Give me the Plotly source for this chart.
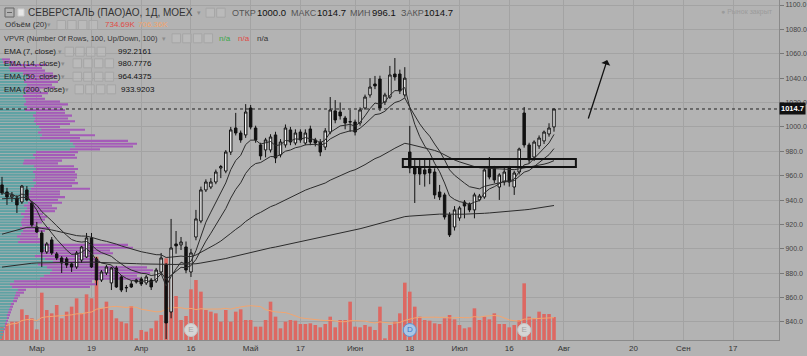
import numpy as np
import pandas as pd
import plotly.graph_objects as go

# ---------------- data ----------------
opens = [952.4, 946.6, 942.5, 941.7, 938.4, 948.3, 937.6, 917.9, 913.0, 897.4,
         907.3, 895.8, 892.5, 891.7, 887.6, 885.1, 890.8, 893.3, 908.9, 891.7,
         874.4, 880.2, 872.0, 884.3, 876.9, 867.9, 871.2, 874.4, 875.3, 872.0,
         874.4, 873.6, 881.0, 886.7, 848.2, 904.0, 903.2, 901.5, 881.0, 909.7,
         922.8, 948.3, 950.7, 954.8, 966.3, 963.8, 979.4, 999.1, 995.0, 993.4,
         1015.5, 999.1, 985.2, 981.1, 981.1, 993.4, 977.0, 985.2, 997.5, 986.8,
         995.8, 986.8, 998.3, 989.3, 987.6, 983.5, 995.8, 1013.1, 1012.2, 1007.3,
         1004.0, 1004.0, 1003.2, 1015.5, 1026.2, 1035.2, 1039.3, 1020.4, 1024.5, 1043.4,
         1043.4, 1026.2, 979.4, 966.3, 966.3, 964.7, 965.5, 963.0, 946.6, 944.2,
         927.8, 917.9, 925.3, 938.4, 936.8, 931.9, 940.1, 942.5, 967.1, 966.3,
         950.7, 954.8, 966.3, 950.7, 963.0, 1011.4, 985.2, 975.3, 984.4, 988.5,
         994.2, 1000.0]
highs = [959.0, 950.0, 946.6, 944.0, 952.4, 951.5, 939.0, 922.0, 915.0, 905.6,
         909.7, 897.4, 894.0, 893.3, 889.0, 898.2, 902.4, 913.0, 913.0, 893.3,
         882.6, 886.7, 885.1, 886.0, 878.5, 870.3, 873.6, 875.5, 877.0, 878.5,
         876.0, 884.3, 896.6, 888.4, 924.5, 914.6, 909.7, 906.0, 900.0, 931.9,
         951.0, 957.0, 958.0, 965.0, 968.8, 981.0, 1000.0, 1011.5, 997.0, 1018.7,
         1018.0, 1001.0, 987.0, 991.0, 994.0, 996.0, 990.0, 1002.0, 1000.0, 998.0,
         998.0, 998.0, 1001.0, 991.0, 990.0, 999.0, 1024.5, 1022.0, 1020.0, 1009.0,
         1014.0, 1006.0, 1016.0, 1026.5, 1040.0, 1041.8, 1042.0, 1028.0, 1050.0, 1056.5,
         1047.0, 1049.0, 1000.8, 974.5, 974.5, 974.5, 974.0, 966.0, 952.4, 946.0,
         930.0, 935.0, 935.0, 940.0, 938.0, 946.0, 945.0, 966.0, 975.3, 968.0,
         962.0, 967.0, 968.0, 964.0, 983.0, 1016.3, 987.0, 989.0, 993.0, 997.0,
         1003.0, 1014.7]
lows = [944.2, 936.0, 938.4, 929.4, 936.8, 939.0, 918.0, 913.0, 885.1, 895.8,
        895.0, 890.8, 880.2, 884.3, 881.0, 883.5, 888.4, 892.5, 884.3, 870.0,
        872.8, 878.5, 866.2, 867.9, 864.5, 864.5, 867.9, 871.5, 869.5, 870.3,
        866.2, 872.0, 879.4, 826.0, 843.0, 896.0, 899.0, 880.0, 876.9, 907.0,
        921.0, 946.6, 949.0, 953.0, 958.0, 962.0, 977.0, 993.0, 987.0, 991.0,
        998.0, 987.0, 973.0, 975.0, 979.0, 970.3, 975.0, 983.0, 985.0, 985.0,
        987.0, 985.0, 985.0, 984.0, 976.0, 981.0, 994.0, 1003.0, 1006.0, 998.0,
        996.0, 993.0, 1001.0, 1014.0, 1024.0, 1031.0, 1013.0, 1018.0, 1023.0, 1038.0,
        1027.0, 1024.0, 962.0, 937.6, 952.4, 951.0, 953.0, 941.0, 940.0, 924.0,
        909.7, 915.0, 923.0, 925.0, 930.0, 925.0, 939.0, 941.0, 957.0, 954.0,
        940.1, 952.0, 951.0, 944.2, 961.0, 983.0, 970.0, 972.0, 982.0, 986.0,
        992.0, 996.1]
closes = [945.8, 942.5, 944.2, 936.0, 951.5, 940.1, 919.6, 913.8, 897.4, 904.0,
          896.6, 892.5, 888.4, 886.7, 885.1, 896.6, 901.5, 908.9, 885.1, 874.4,
          881.0, 885.1, 884.3, 868.7, 866.2, 868.3, 868.7, 872.8, 871.2, 876.9,
          868.7, 882.6, 892.5, 839.2, 900.7, 902.4, 905.6, 882.6, 896.6, 924.5,
          948.3, 954.8, 954.8, 963.0, 967.5, 979.4, 997.5, 995.0, 989.3, 1012.2,
          999.9, 989.3, 976.2, 989.3, 991.7, 974.5, 987.6, 999.1, 987.6, 995.0,
          989.3, 995.0, 987.6, 986.8, 979.4, 996.7, 1013.9, 1005.7, 1009.0, 1003.2,
          1004.3, 995.8, 1013.9, 1024.5, 1032.7, 1033.6, 1015.5, 1026.2, 1042.6, 1041.0,
          1029.5, 1040.0, 966.3, 961.4, 961.4, 961.4, 962.2, 944.2, 942.5, 926.1,
          911.4, 931.9, 933.5, 935.1, 931.9, 944.2, 943.3, 964.7, 958.9, 956.5,
          960.6, 963.0, 954.8, 962.2, 981.9, 985.2, 972.9, 987.6, 990.9, 995.8,
          999.1, 1014.7]
volumes_k = [427, 533, 587, 587, 981, 800, 693, 341, 1515, 960,
             853, 1120, 693, 907, 1067, 1333, 853, 1461, 1333, 2667,
             1013, 1227, 960, 693, 587, 533, 1088, 53, 320, 267,
             373, 619, 800, 2613, 1973, 1408, 640, 768, 1621, 1920,
             1547, 960, 907, 853, 587, 960, 587, 907, 981, 640,
             640, 427, 427, 640, 1227, 747, 373, 587, 640, 619,
             512, 512, 533, 480, 405, 512, 747, 405, 640, 640,
             1227, 427, 405, 480, 427, 320, 1067, 53, 480, 587,
             853, 1835, 1547, 1067, 747, 640, 619, 533, 512, 693,
             800, 661, 480, 373, 405, 1013, 640, 747, 661, 853,
             512, 512, 405, 480, 640, 1813, 747, 693, 907, 832,
             832, 735]

# Visible-range volume profile, 100 rows from the lowest low to the highest high
# (relative volume per row, bottom row first): up part and down part
vp_up = [2, 3, 3, 4, 5, 5, 6, 7, 7, 8,
         9, 10, 11, 13, 14, 15, 16, 18, 12, 10,
         14, 40, 44, 50, 52, 47, 38, 53, 45, 35,
         40, 42, 47, 44, 18, 20, 17, 21, 23, 20,
         22, 21, 22, 24, 21, 25, 27, 24, 28, 30,
         26, 29, 30, 31, 34, 36, 33, 35, 35, 33,
         36, 34, 23, 24, 35, 33, 36, 70, 75, 73,
         70, 40, 42, 38, 41, 39, 36, 34, 35, 33,
         36, 25, 27, 24, 26, 25, 23, 26, 24, 25,
         27, 24, 26, 28, 23, 10, 9, 11, 3, 2]
vp_down = [0, 0, 1, 1, 1, 2, 2, 2, 3, 3,
           3, 3, 3, 4, 4, 5, 8, 8, 78, 87,
           78, 100, 93, 100, 101, 100, 59, 47, 50, 57,
           73, 68, 86, 84, 22, 22, 21, 17, 22, 30,
           14, 21, 23, 23, 22, 30, 30, 28, 34, 28,
           39, 31, 30, 59, 38, 42, 42, 42, 42, 42,
           42, 40, 35, 38, 42, 42, 42, 30, 58, 64,
           58, 40, 53, 32, 44, 21, 34, 41, 33, 39,
           29, 40, 35, 44, 34, 20, 19, 22, 16, 30,
           25, 34, 24, 28, 30, 35, 33, 36, 12, 8]

ema_periods = [7, 14, 50, 200]
ema_seeds = [946.0, 941.0, 912.0, 885.0]      # indicator values at the first visible bar
ema_labels = ["EMA (7, close)", "EMA (14, close)", "EMA (50, close)", "EMA (200, close)"]
ema_values_text = ["992.2161", "980.7776", "964.4375", "933.9203"]

tick_pos = [7, 18, 28, 38, 50, 60, 71, 82, 92, 102, 113, 127, 137, 147]
tick_text = ["Мар", "19", "Апр", "16", "Май", "17", "Июн", "18", "Июл", "16",
             "Авг", "20", "Сен", "17"]

event_idx = [38, 82, 105]
event_kind = ["E", "D", "E"]

zone_box = dict(x0=80.6, x1=115.4, y0=967.1, y1=973.7)     # drawn rectangle
arrow_pts = dict(x_tail=117.8, y_tail=1005.7, x_head=121.7, y_head=1054.9)

vol_last_text = "734.69K"
vol_ma_text = "706.36K"

# ---------------- layout constants ----------------
W, H = 807, 356
MR, MB = 28, 16
PW, PH = W - MR, H - MB
PX_PER_BAR = 4.973
X_START = -2 / PX_PER_BAR
X_END = X_START + PW / PX_PER_BAR
Y_TOP, Y_BOT = 1104.1, 825.2
VOL_PER_PX = 32.0
VP_MAX_PX = 153
N_ROWS = len(vp_up)

BG = "#b3b3b3"
GRID = "#a3a3a3"
FONT = "Liberation Sans, Arial, sans-serif"
TEAL = "#5fa2a4"
PURPLE = "#a45bb8"
VOLRED = "#dd6862"

idx = np.arange(len(closes))
o = np.array(opens); h = np.array(highs); l = np.array(lows); c = np.array(closes)
v = np.array(volumes_k, dtype=float)

# EMAs
emas = []
for p, s in zip(ema_periods, ema_seeds):
    a = 2.0 / (p + 1)
    e = [s]
    for x in c[1:]:
        e.append(e[-1] + a * (x - e[-1]))
    emas.append(np.array(e))

vol_ma = pd.Series(v).rolling(20, min_periods=1).mean().values

# Volume profile rows
lo, hi = l.min(), h.max()
edges = np.linspace(lo, hi, N_ROWS + 1)
row_h = edges[1] - edges[0]
centers = (edges[:-1] + edges[1:]) / 2
up = np.array(vp_up, dtype=float)
dn = np.array(vp_down, dtype=float)
scale = (VP_MAX_PX / PX_PER_BAR) / (up + dn).max()
up_w = up * scale
dn_w = dn * scale

fig = go.Figure()

fig.add_trace(go.Bar(x=idx, y=v, yaxis="y", marker=dict(color=VOLRED, line=dict(width=0)),
                     width=0.72, hoverinfo="skip"))
fig.add_trace(go.Scatter(x=idx, y=vol_ma, yaxis="y", mode="lines",
                         line=dict(color="#f3a56f", width=1), hoverinfo="skip"))

fig.add_trace(go.Bar(y=centers, x=up_w, base=X_START, orientation="h", yaxis="y2",
                     width=row_h * 0.75, marker=dict(color=TEAL, line=dict(width=0)),
                     hoverinfo="skip"))
fig.add_trace(go.Bar(y=centers, x=dn_w, base=X_START + up_w, orientation="h", yaxis="y2",
                     width=row_h * 0.75, marker=dict(color=PURPLE, line=dict(width=0)),
                     hoverinfo="skip"))

fig.add_trace(go.Candlestick(x=idx, open=o, high=h, low=l, close=c, yaxis="y2",
                             increasing=dict(line=dict(color="#111111", width=1), fillcolor="#f5f5f5"),
                             decreasing=dict(line=dict(color="#111111", width=1), fillcolor="#111111"),
                             whiskerwidth=0, hoverinfo="skip"))

for e in emas:
    fig.add_trace(go.Scatter(x=idx, y=e, yaxis="y2", mode="lines",
                             line=dict(color="#2b2b2b", width=1), hoverinfo="skip"))

EV_Y = Y_TOP - (330) * (Y_TOP - Y_BOT) / PH
for k, kind in zip(event_idx, event_kind):
    if kind == "D":
        fill, lc, tc = "#a9c6e6", "#5b93d3", "#3a78c8"
    else:
        fill, lc, tc = "#d5d5d5", "#c6c6c6", "#a3a3a3"
    fig.add_trace(go.Scatter(x=[k], y=[EV_Y], yaxis="y2", mode="markers+text",
                             marker=dict(size=13, color=fill, line=dict(color=lc, width=1)),
                             text=[kind], textposition="middle center",
                             textfont=dict(family=FONT, size=8, color=tc), hoverinfo="skip"))

fig.update_layout(
    width=W, height=H, margin=dict(l=0, r=MR, t=0, b=MB),
    plot_bgcolor=BG, paper_bgcolor=BG, showlegend=False,
    barmode="overlay", boxgap=0.3,
    xaxis=dict(range=[X_START, X_END], tickvals=tick_pos, ticktext=tick_text,
               showgrid=True, gridcolor=GRID, gridwidth=1, zeroline=False,
               showline=True, linecolor="#8a8a8a", ticks="",
               tickfont=dict(family=FONT, size=8, color="#333"),
               rangeslider=dict(visible=False)),
    yaxis=dict(range=[0, PH * VOL_PER_PX], visible=False, showgrid=False, fixedrange=True),
    yaxis2=dict(overlaying="y", side="right", anchor="x", range=[Y_BOT, Y_TOP],
                tick0=0, dtick=20, tickformat=".1f", showgrid=True, gridcolor=GRID,
                zeroline=False, showline=True, linecolor="#8a8a8a",
                ticks="outside", ticklen=4, tickcolor="#777",
                tickfont=dict(family=FONT, size=7, color="#444")),
)

# last price dotted line + tag
last = closes[-1]
fig.add_shape(type="line", xref="paper", x0=0, x1=1, yref="y2", y0=last, y1=last,
              line=dict(color="#222", width=1, dash="dot"))
fig.add_annotation(xref="paper", x=1, xanchor="left", yref="y2", y=last, yanchor="middle",
                   text="<b>%.1f</b>" % last, showarrow=False, bgcolor="#111111",
                   font=dict(family=FONT, size=7.5, color="white"), borderpad=1)

# drawn rectangle and arrow
fig.add_shape(type="rect", xref="x", yref="y2", x0=zone_box["x0"], x1=zone_box["x1"],
              y0=zone_box["y0"], y1=zone_box["y1"], line=dict(color="#111", width=2))
fig.add_annotation(xref="x", yref="y2", x=arrow_pts["x_head"], y=arrow_pts["y_head"],
                   axref="x", ayref="y2", ax=arrow_pts["x_tail"], ay=arrow_pts["y_tail"],
                   showarrow=True, arrowhead=1, arrowsize=1.2, arrowwidth=1.3,
                   arrowcolor="#111", text="")

# ---------------- legend texts ----------------
def txt(s, px, py, size=8, color="#222", anchor="left"):
    fig.add_annotation(xref="paper", yref="paper", x=px / PW, y=1 - py / PH,
                       xanchor=anchor, yanchor="middle", text=s, showarrow=False,
                       font=dict(family=FONT, size=size, color=color), borderpad=0)

def box(x0, y0, x1, y1, fill="rgba(200,200,200,0.35)", line="#a6a6a6"):
    fig.add_shape(type="rect", xref="paper", yref="paper",
                  x0=x0 / PW, x1=x1 / PW, y0=1 - y1 / PH, y1=1 - y0 / PH,
                  fillcolor=fill, line=dict(color=line, width=1))

def icons(x, y, n):
    for i in range(n):
        box(x + i * 10.7, y - 4.5, x + i * 10.7 + 8.5, y + 4.5)

# line 1
box(5, 8, 14, 17, fill="rgba(0,0,0,0)", line="#666")
fig.add_shape(type="line", xref="paper", yref="paper", x0=7 / PW, x1=12 / PW,
              y0=1 - 12.5 / PH, y1=1 - 12.5 / PH, line=dict(color="#666", width=1))
box(18, 9, 24, 16, fill="#e6e6e6", line="#d0d0d0")
txt("СЕВЕРСТАЛЬ (ПАО)АО, 1Д, MOEX", 27, 12.7, size=10, color="#333")
txt("▾", 196, 12.7, size=7, color="#8c8c8c")
icons(206, 12.7, 2)
for lab, lx, val, vx in [("ОТКР", 231, "1000.0", 256), ("МАКС", 290, "1014.7", 316),
                         ("МИН", 349, "996.1", 371), ("ЗАКР", 400, "1014.7", 423)]:
    txt(lab, lx, 12.7, size=9, color="#555")
    txt(val, vx, 12.7, size=9.5, color="#111")
txt("● Рынок закрыт", 720, 12, size=7, color="#9b9b9b")

# line 2
txt("Объём (20)", 4, 25, size=8, color="#333")
txt("▾", 46, 25, size=7, color="#8c8c8c")
icons(57, 25, 4)
txt(vol_last_text, 104, 25, size=8, color="#e04b45")
txt(vol_ma_text, 137, 25, size=8, color="#f2a36c")

# line 3
txt("VPVR (Number Of Rows, 100, Up/Down, 100)", 3, 38.3, size=7.5, color="#333")
txt("▾", 161, 38.3, size=7, color="#8c8c8c")
icons(172, 38.3, 4)
txt("n/a", 218, 38.3, size=8, color="#3aa84a")
txt("n/a", 237, 38.3, size=8, color="#e04b45")
txt("n/a", 256, 38.3, size=8, color="#333")

# EMA lines
ema_rows = [(51.7, 57, 65, 117), (63.3, 60, 73, 117), (76.7, 60, 73, 117), (89.3, 64, 75, 120)]
for (py, tx, ix, vx), lab, val in zip(ema_rows, ema_labels, ema_values_text):
    txt(lab, 3, py, size=8, color="#222")
    txt("▾", tx, py, size=7, color="#8c8c8c")
    icons(ix, py, 4)
    txt(val, vx, py, size=8, color="#111")

fig.write_html("out.html", config={"displayModeBar": False, "staticPlot": True},
               post_script="document.body.style.margin='0px';"
                           "document.body.style.overflow='hidden';")
